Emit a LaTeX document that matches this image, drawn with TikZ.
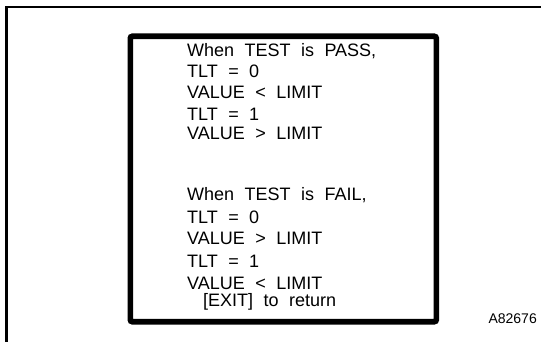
\documentclass[tikz,border=0pt]{standalone}
\usepackage{fontspec}
\setmainfont{Liberation Sans}
\newcommand{\widespaces}{\spaceskip=0.58em\relax}
\begin{document}
\begin{tikzpicture}[x=1pt,y=-1pt,
  txt/.style={anchor=base west,inner sep=0pt,font=\fontsize{18}{20}\selectfont,execute at begin node=\widespaces},
  frame/.style={line width=2.2pt},
  panel/.style={line width=5.6pt,rounded corners=2pt}]
\useasboundingbox (0,0) rectangle (541,342);
\coordinate (fa) at (541,7);
\coordinate (fb) at (6.5,7);
\coordinate (fc) at (6.5,342);
\draw[frame] (fa) -- (fb) -- (fc);
\draw[panel] (130.3,36.3) rectangle (436.3,321.7);
\node[txt] (l1) at (187,56.5) {When TEST is PASS,};
\node[txt] (l2) at (187,78) {TLT = 0};
\node[txt] (l3) at (187,98.5) {VALUE < LIMIT};
\node[txt] (l4) at (187,120.5) {TLT = 1};
\node[txt] (l5) at (187,139.5) {VALUE > LIMIT};
\node[txt] (l6) at (187,200.5) {When TEST is FAIL,};
\node[txt] (l7) at (187,223) {TLT = 0};
\node[txt] (l8) at (187,244.5) {VALUE > LIMIT};
\node[txt] (l9) at (187,267) {TLT = 1};
\node[txt] (l10) at (187,289) {VALUE < LIMIT};
\node[txt] (l11) at (203,306) {[EXIT] to return};
\node[anchor=base east,inner sep=0pt,font=\fontsize{14}{16}\selectfont] (id) at (537,323.3) {A82676};
\end{tikzpicture}
\end{document}
